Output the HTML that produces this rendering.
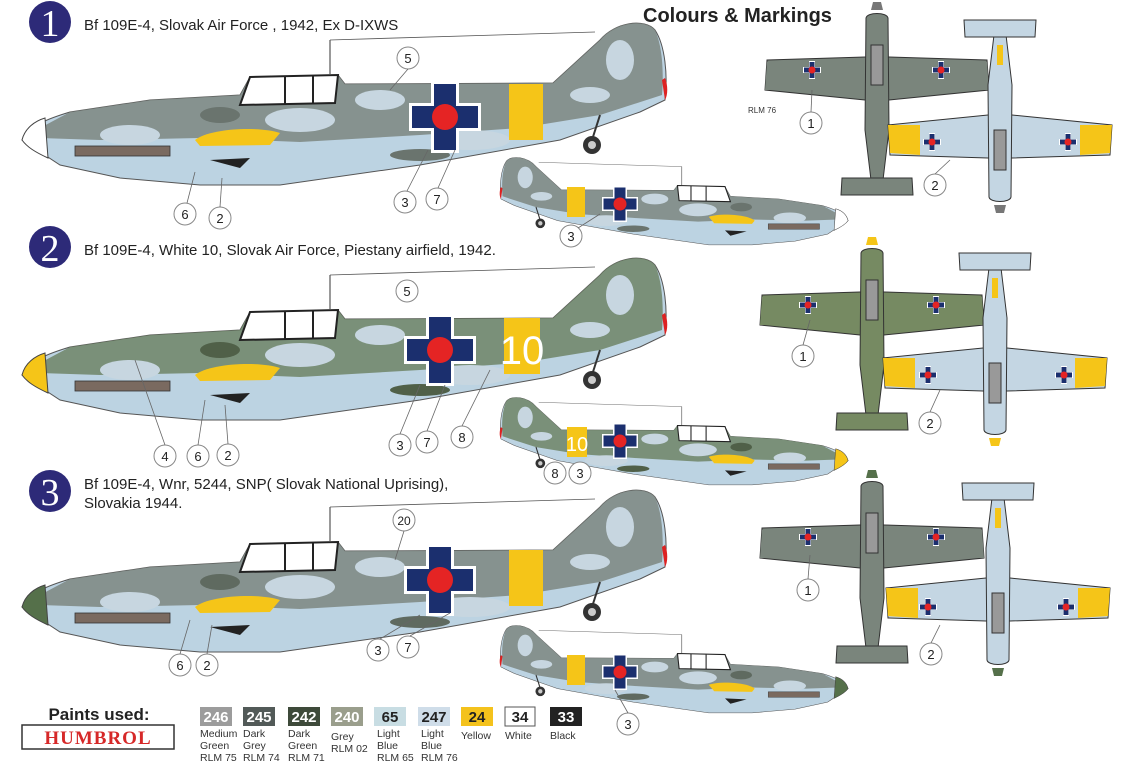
<!DOCTYPE html>
<html><head><meta charset="utf-8"><style>
body{margin:0;background:#fff;width:1123px;height:774px;overflow:hidden;font-family:"Liberation Sans",Arial,sans-serif}
.serif{font-family:"Liberation Serif",serif}
</style></head><body>
<svg width="1123" height="774" viewBox="0 0 1123 774" xmlns="http://www.w3.org/2000/svg" font-family="Liberation Sans, Arial, sans-serif">
<defs>
<g id="side">
  <path d="M22,140 C30,125 50,118 70,112 L150,100 L240,95 L250,77 L338,75 L345,84 L553,83 L600,40 C615,22 645,18 655,30 C665,45 668,75 665,100 L640,112 L560,140 L420,165 L280,185 L200,185 L120,178 L60,165 Z" fill="#bcd3e2" stroke="#555" stroke-width="1"/>
  <path d="M40,128 L70,112 L150,100 L240,95 L250,77 L338,75 L345,84 L553,83 L600,40 C615,22 645,18 655,30 C662,45 664,70 662,95 L600,115 L520,128 L420,135 L300,142 L200,138 L100,140 L40,138 Z" fill="var(--c1)" opacity="0.85"/>
  <ellipse cx="130" cy="135" rx="30" ry="10" fill="#c7d6e0"/>
  <ellipse cx="300" cy="120" rx="35" ry="12" fill="#c7d6e0"/>
  <ellipse cx="380" cy="100" rx="25" ry="10" fill="#c7d6e0"/>
  <ellipse cx="470" cy="140" rx="40" ry="10" fill="#c7d6e0"/>
  <ellipse cx="620" cy="60" rx="14" ry="20" fill="#c7d6e0"/>
  <ellipse cx="590" cy="95" rx="20" ry="8" fill="#c7d6e0"/>
  <ellipse cx="220" cy="115" rx="20" ry="8" fill="var(--c2)"/>
  <ellipse cx="420" cy="155" rx="30" ry="6" fill="var(--c2)"/>
  <path d="M250,77 L338,75 L335,103 L240,105 Z" fill="#fff" stroke="#222" stroke-width="2"/>
  <line x1="285" y1="77" x2="285" y2="104" stroke="#222" stroke-width="2"/>
  <line x1="313" y1="76" x2="313" y2="104" stroke="#222" stroke-width="2"/>
  <path d="M195,140 C210,128 260,126 280,133 L270,145 L200,146 Z" fill="var(--wr)"/>
  <rect x="75" y="146" width="95" height="10" fill="#7a6a60" stroke="#333" stroke-width="0.8"/>
  <path d="M210,160 L250,158 L240,168 Z" fill="#222"/>
  <line x1="600" y1="115" x2="592" y2="140" stroke="#333" stroke-width="2"/>
  <circle cx="592" cy="145" r="9" fill="#333"/><circle cx="592" cy="145" r="4" fill="#ccc"/>
  <path d="M665,78 C668,85 668,95 665,100 L662,80 Z" fill="#d22"/>
  <path d="M22,140 C25,128 35,121 45,118 L48,158 C35,152 27,147 22,140 Z" fill="var(--sp)" stroke="#444" stroke-width="1"/>
  <line x1="330" y1="74" x2="330" y2="40" stroke="#333" stroke-width="1"/>
  <line x1="330" y1="40" x2="595" y2="32" stroke="#555" stroke-width="0.8"/>
</g>
<g id="cross">
  <rect x="-36" y="-14" width="72" height="28" fill="#fff"/>
  <rect x="-14" y="-36" width="28" height="72" fill="#fff"/>
  <rect x="-33" y="-11" width="66" height="22" fill="#1b2f6e"/>
  <rect x="-11" y="-33" width="22" height="66" fill="#1b2f6e"/>
  <circle r="13" fill="#e52424"/>
</g>
<g id="tcross">
  <rect x="-9" y="-3" width="18" height="6" fill="#fff"/><rect x="-3" y="-9" width="6" height="18" fill="#fff"/>
  <rect x="-8" y="-2.5" width="16" height="5" fill="#1b2f6e"/><rect x="-2.5" y="-8" width="5" height="16" fill="#1b2f6e"/>
  <circle r="3.5" fill="#e52424"/>
</g>
<g id="top">
  <path d="M-110,50 L-12,47 L12,47 L110,50 L112,80 L12,90 L-12,90 L-112,80 Z" fill="var(--t1)" stroke="#333" stroke-width="1"/>
  <path d="M-11,8 C-10,2 10,2 11,8 L12,120 L6,170 L-6,170 L-12,120 Z" fill="var(--t1)" stroke="#333" stroke-width="1"/>
  <path d="M-35,168 L35,168 L36,185 L-36,185 Z" fill="var(--t1)" stroke="#333" stroke-width="1"/>
  <rect x="-6" y="35" width="12" height="40" fill="#999" stroke="#333"/>
  <path d="M-110,52 L-80,50 L-80,80 L-112,80 Z" fill="var(--tip)"/>
  <path d="M110,52 L80,50 L80,80 L112,80 Z" fill="var(--tip)"/>
  <rect x="-3" y="140" width="6" height="20" fill="var(--tip)"/>
  <path d="M-6,0 L6,0 L4,-8 L-4,-8 Z" fill="var(--sp)"/>
</g>
</defs>

<circle cx="50" cy="22" r="21" fill="#2d2a78"/><text class="serif" x="50" y="36" font-size="38" fill="#fff" text-anchor="middle">1</text>
<circle cx="50" cy="247" r="21" fill="#2d2a78"/><text class="serif" x="50" y="261" font-size="38" fill="#fff" text-anchor="middle">2</text>
<circle cx="50" cy="491" r="21" fill="#2d2a78"/><text class="serif" x="50" y="505" font-size="38" fill="#fff" text-anchor="middle">3</text>
<text x="84" y="30" font-size="15" fill="#222">Bf 109E-4, Slovak Air Force , 1942, Ex D-IXWS</text>
<text x="84" y="255" font-size="15" fill="#222">Bf 109E-4, White 10, Slovak Air Force, Piestany airfield, 1942.</text>
<text x="84" y="489" font-size="15" fill="#222">Bf 109E-4, Wnr, 5244, SNP( Slovak National Uprising),</text>
<text x="84" y="508" font-size="15" fill="#222">Slovakia 1944.</text>
<text x="643" y="22" font-size="20" font-weight="bold" fill="#222">Colours &amp; Markings</text>

<g style="--c1:#7c8680;--c2:#6a746e;--wr:#f5c518;--sp:#fff"><use href="#side"/></g>
<rect x="509" y="84" width="34" height="56" fill="#f5c518"/>
<use href="#cross" x="445" y="117"/>
<g style="--c1:#7c8680;--c2:#6a746e;--wr:#f5c518;--sp:#fff" transform="translate(860,145) scale(-0.54,0.54)"><use href="#side"/></g>
<rect x="567" y="187" width="18" height="30" fill="#f5c518"/>
<use href="#cross" transform="translate(620,204) scale(0.5)"/>

<g style="--c1:#6f8466;--c2:#506048;--wr:#f5c518;--sp:#f5c518" transform="translate(0,235)"><use href="#side"/></g>
<rect x="504" y="318" width="36" height="56" fill="#f5c518"/>
<text x="522" y="364" font-size="40" fill="#fff" text-anchor="middle">10</text>
<use href="#cross" x="440" y="350"/>
<g style="--c1:#6f8466;--c2:#506048;--wr:#f5c518;--sp:#f5c518" transform="translate(860,385) scale(-0.54,0.54)"><use href="#side"/></g>
<rect x="567" y="427" width="20" height="30" fill="#f5c518"/>
<text x="577" y="451" font-size="20" fill="#fff" text-anchor="middle">10</text>
<use href="#cross" transform="translate(620,441) scale(0.5)"/>

<g style="--c1:#7c8680;--c2:#5f6a60;--wr:#f5c518;--sp:#55704a" transform="translate(0,467)"><use href="#side"/></g>
<rect x="509" y="550" width="34" height="56" fill="#f5c518"/>
<use href="#cross" x="440" y="580"/>
<g style="--c1:#7c8680;--c2:#5f6a60;--wr:#f5c518;--sp:#55704a" transform="translate(860,613) scale(-0.54,0.54)"><use href="#side"/></g>
<rect x="567" y="655" width="18" height="30" fill="#f5c518"/>
<use href="#cross" transform="translate(620,672) scale(0.5)"/>

<g style="--t1:#7a857c;--tip:#7a857c;--sp:#777" transform="translate(877,10)"><use href="#top"/></g>
<use href="#tcross" x="812" y="70"/><use href="#tcross" x="941" y="70"/>
<g style="--t1:#c4d6e3;--tip:#f5c518;--sp:#777" transform="translate(1000,205) scale(1,-1)"><use href="#top"/></g>
<use href="#tcross" x="932" y="142"/><use href="#tcross" x="1068" y="142"/>

<g style="--t1:#768a62;--tip:#768a62;--sp:#f5c518" transform="translate(872,245)"><use href="#top"/></g>
<use href="#tcross" x="808" y="305"/><use href="#tcross" x="936" y="305"/>
<g style="--t1:#c4d6e3;--tip:#f5c518;--sp:#f5c518" transform="translate(995,438) scale(1,-1)"><use href="#top"/></g>
<use href="#tcross" x="928" y="375"/><use href="#tcross" x="1064" y="375"/>

<g style="--t1:#7a857c;--tip:#7a857c;--sp:#55704a" transform="translate(872,478)"><use href="#top"/></g>
<use href="#tcross" x="808" y="537"/><use href="#tcross" x="936" y="537"/>
<g style="--t1:#c4d6e3;--tip:#f5c518;--sp:#55704a" transform="translate(998,668) scale(1,-1)"><use href="#top"/></g>
<use href="#tcross" x="928" y="607"/><use href="#tcross" x="1066" y="607"/>
<text x="748" y="113" font-size="8" fill="#333">RLM 76</text>

<g fill="#fff" stroke="#888" stroke-width="1">
<circle cx="408" cy="58" r="11"/><circle cx="185" cy="214" r="11"/><circle cx="220" cy="218" r="11"/>
<circle cx="405" cy="202" r="11"/><circle cx="437" cy="199" r="11"/><circle cx="571" cy="236" r="11"/>
<circle cx="811" cy="123" r="11"/><circle cx="935" cy="185" r="11"/>
<circle cx="407" cy="291" r="11"/><circle cx="165" cy="456" r="11"/><circle cx="198" cy="456" r="11"/><circle cx="228" cy="455" r="11"/>
<circle cx="400" cy="445" r="11"/><circle cx="427" cy="442" r="11"/><circle cx="462" cy="437" r="11"/>
<circle cx="555" cy="473" r="11"/><circle cx="580" cy="473" r="11"/>
<circle cx="803" cy="356" r="11"/><circle cx="930" cy="423" r="11"/>
<circle cx="404" cy="520" r="11"/><circle cx="180" cy="665" r="11"/><circle cx="207" cy="665" r="11"/>
<circle cx="378" cy="650" r="11"/><circle cx="408" cy="647" r="11"/><circle cx="628" cy="724" r="11"/>
<circle cx="808" cy="590" r="11"/><circle cx="931" cy="654" r="11"/>
</g>
<g font-size="13" fill="#222" text-anchor="middle">
<text x="408" y="63">5</text><text x="185" y="219">6</text><text x="220" y="223">2</text>
<text x="405" y="207">3</text><text x="437" y="204">7</text><text x="571" y="241">3</text>
<text x="811" y="128">1</text><text x="935" y="190">2</text>
<text x="407" y="296">5</text><text x="165" y="461">4</text><text x="198" y="461">6</text><text x="228" y="460">2</text>
<text x="400" y="450">3</text><text x="427" y="447">7</text><text x="462" y="442">8</text>
<text x="555" y="478">8</text><text x="580" y="478">3</text>
<text x="803" y="361">1</text><text x="930" y="428">2</text>
<text x="404" y="525" font-size="12">20</text><text x="180" y="670">6</text><text x="207" y="670">2</text>
<text x="378" y="655">3</text><text x="408" y="652">7</text><text x="628" y="729">3</text>
<text x="808" y="595">1</text><text x="931" y="659">2</text>
</g>
<g stroke="#666" stroke-width="0.8">
<line x1="408" y1="69" x2="390" y2="90"/><line x1="187" y1="203" x2="195" y2="172"/><line x1="220" y1="207" x2="222" y2="178"/>
<line x1="407" y1="191" x2="428" y2="150"/><line x1="438" y1="188" x2="455" y2="150"/><line x1="578" y1="228" x2="600" y2="214"/>
<line x1="811" y1="112" x2="812" y2="90"/><line x1="935" y1="174" x2="950" y2="160"/>
<line x1="165" y1="445" x2="135" y2="360"/><line x1="198" y1="445" x2="205" y2="400"/><line x1="228" y1="444" x2="225" y2="405"/>
<line x1="400" y1="434" x2="420" y2="385"/><line x1="427" y1="431" x2="445" y2="385"/><line x1="462" y1="426" x2="490" y2="370"/>
<line x1="803" y1="345" x2="810" y2="320"/><line x1="930" y1="412" x2="940" y2="390"/>
<line x1="404" y1="531" x2="395" y2="560"/><line x1="180" y1="654" x2="190" y2="620"/><line x1="207" y1="654" x2="212" y2="625"/>
<line x1="380" y1="639" x2="420" y2="615"/><line x1="410" y1="636" x2="450" y2="613"/><line x1="628" y1="713" x2="615" y2="690"/>
<line x1="808" y1="579" x2="810" y2="555"/><line x1="931" y1="643" x2="940" y2="625"/>
</g>

<text x="99" y="720" font-size="17" font-weight="bold" fill="#222" text-anchor="middle">Paints used:</text>
<rect x="22" y="725" width="152" height="24" fill="#fff" stroke="#333" stroke-width="1.5"/>
<text class="serif" x="98" y="744" font-size="19" font-weight="bold" fill="#d62828" text-anchor="middle" letter-spacing="1">HUMBROL</text>
<g font-size="15" font-weight="bold" text-anchor="middle">
<rect x="200" y="707" width="32" height="19" fill="#9c9c9c"/><text x="216" y="722" fill="#fff">246</text>
<rect x="243" y="707" width="32" height="19" fill="#525a58"/><text x="259" y="722" fill="#fff">245</text>
<rect x="288" y="707" width="32" height="19" fill="#3e4a3a"/><text x="304" y="722" fill="#fff">242</text>
<rect x="331" y="707" width="32" height="19" fill="#9a9e8c"/><text x="347" y="722" fill="#fff">240</text>
<rect x="374" y="707" width="32" height="19" fill="#c8dde3"/><text x="390" y="722" fill="#222">65</text>
<rect x="418" y="707" width="32" height="19" fill="#cfdde9"/><text x="434" y="722" fill="#222">247</text>
<rect x="461" y="707" width="32" height="19" fill="#f4c21c"/><text x="477" y="722" fill="#222">24</text>
<rect x="505" y="707" width="30" height="19" fill="#fff" stroke="#555"/><text x="520" y="722" fill="#222">34</text>
<rect x="550" y="707" width="32" height="19" fill="#222"/><text x="566" y="722" fill="#fff">33</text>
</g>
<g font-size="10.5" fill="#333">
<text x="200" y="737">Medium</text><text x="200" y="749">Green</text><text x="200" y="761">RLM 75</text>
<text x="243" y="737">Dark</text><text x="243" y="749">Grey</text><text x="243" y="761">RLM 74</text>
<text x="288" y="737">Dark</text><text x="288" y="749">Green</text><text x="288" y="761">RLM 71</text>
<text x="331" y="740">Grey</text><text x="331" y="752">RLM 02</text>
<text x="377" y="737">Light</text><text x="377" y="749">Blue</text><text x="377" y="761">RLM 65</text>
<text x="421" y="737">Light</text><text x="421" y="749">Blue</text><text x="421" y="761">RLM 76</text>
<text x="461" y="739">Yellow</text><text x="505" y="739">White</text><text x="550" y="739">Black</text>
</g>
</svg>
</body></html>
